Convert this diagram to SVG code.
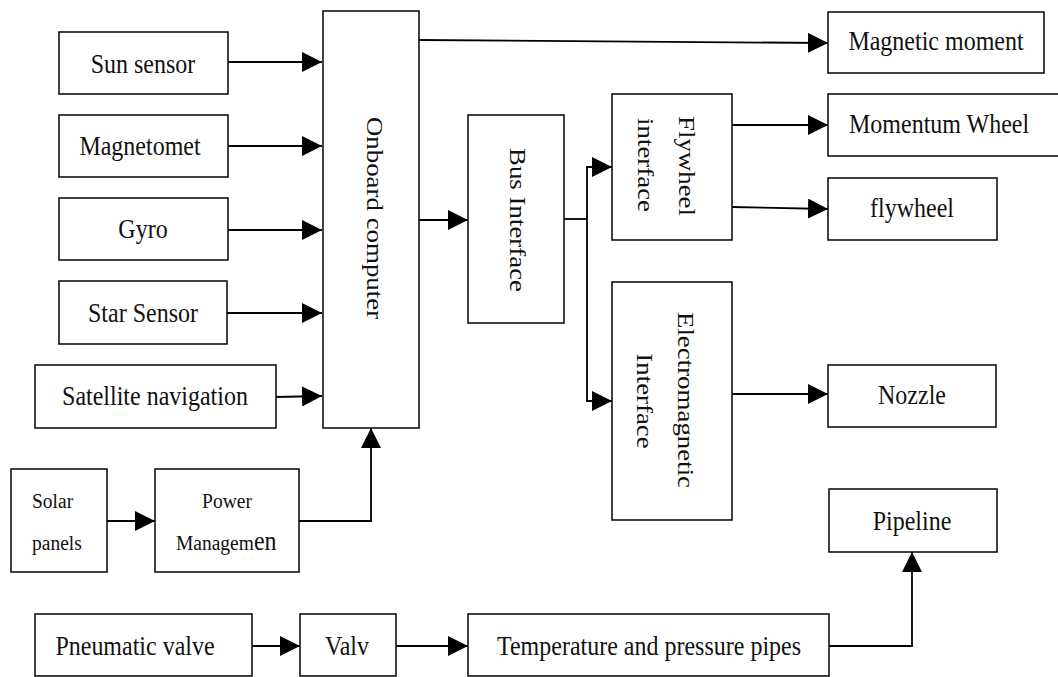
<svg xmlns="http://www.w3.org/2000/svg" width="1058" height="677" viewBox="0 0 1058 677">
<defs>
<marker id="ah" markerUnits="userSpaceOnUse" markerWidth="20" markerHeight="20" refX="20" refY="10" orient="auto">
<path d="M0,0 L20,10 L0,20 Z" fill="#000"/>
</marker>
</defs>
<style>
rect{fill:#fff;stroke:#111;stroke-width:1.6}
text{font-family:"Liberation Serif","Times New Roman",serif;font-size:24px;fill:#111}
.c{text-anchor:middle}
.s{font-size:19.5px}
#connectors path{fill:none;stroke:#000;stroke-width:1.8}
.a{marker-end:url(#ah)}
</style>
<rect x="0" y="0" width="1058" height="677" style="fill:#fff;stroke:none"/>
<g id="connectors">
<path class="a" d="M228,62 H322"/>
<path class="a" d="M228,146 H322"/>
<path class="a" d="M228,230 H322"/>
<path class="a" d="M227,313 H322"/>
<path class="a" d="M276,397 L322,396"/>
<path class="a" d="M107,521 H155"/>
<path class="a" d="M299,521 H371 V428"/>
<path class="a" d="M419,40 L828,43"/>
<path class="a" d="M419,220 H468"/>
<path d="M564,219 H587"/>
<path class="a" d="M587,219 V167 H612"/>
<path class="a" d="M587,219 V401 H612"/>
<path class="a" d="M732,125 H828"/>
<path class="a" d="M732,207 L828,209"/>
<path class="a" d="M732,394 H828"/>
<path class="a" d="M252,646 H300"/>
<path class="a" d="M396,646 H468"/>
<path class="a" d="M829,646 H912 V552"/>
</g>
<g id="sun"><rect x="59" y="32" width="169" height="62"/><text class="c" transform="translate(143,73) scale(1,1.12)">Sun sensor</text></g>
<g id="magnetomet"><rect x="59" y="115" width="169" height="62"/><text class="c" transform="translate(140,155) scale(1,1.12)">Magnetomet</text></g>
<g id="gyro"><rect x="59" y="198" width="169" height="62"/><text class="c" transform="translate(143,238) scale(1,1.12)">Gyro</text></g>
<g id="star"><rect x="59" y="281" width="168" height="63"/><text class="c" transform="translate(143,322) scale(1,1.12)">Star Sensor</text></g>
<g id="satnav"><rect x="35" y="365" width="241" height="63"/><text class="c" transform="translate(155,405) scale(1,1.12)">Satellite navigation</text></g>
<g id="obc"><rect x="323" y="11" width="96" height="417"/><text class="c" transform="translate(367,218) scale(1,1.12) rotate(90)">Onboard computer</text></g>
<g id="solar"><rect x="11" y="469" width="96" height="103"/><text class="s" transform="translate(32,508) scale(1,1.12)">Solar</text><text class="s" transform="translate(32,550) scale(1,1.12)">panels</text></g>
<g id="power"><rect x="155" y="469" width="144" height="103"/><text class="c s" transform="translate(227,508) scale(1,1.12)">Power</text><text class="s" transform="translate(176,550) scale(1,1.12)">Managem<tspan style="font-size:24px">en</tspan></text></g>
<g id="magmom"><rect x="828" y="12" width="216" height="61"/><text class="c" transform="translate(936,50) scale(1,1.12)">Magnetic moment</text></g>
<g id="bus"><rect x="468" y="115" width="96" height="208"/><text class="c" transform="translate(510,220) scale(1,1.12) rotate(90)">Bus Interface</text></g>
<g id="flyif"><rect x="612" y="94" width="120" height="146"/><text class="c" transform="translate(679,166) scale(1,1.12) rotate(90)">Flywheel</text><text class="c" transform="translate(638,165) scale(1,1.12) rotate(90)">interface</text></g>
<g id="momwheel"><rect x="828" y="94" width="234" height="62"/><text transform="translate(849,133) scale(1,1.12)">Momentum Wheel</text></g>
<g id="flywheel"><rect x="828" y="178" width="169" height="62"/><text class="c" transform="translate(912,217) scale(1,1.12)">flywheel</text></g>
<g id="emif"><rect x="612" y="282" width="120" height="238"/><text class="c" transform="translate(678,400) scale(1,1.12) rotate(90)">Electromagnetic</text><text class="c" transform="translate(637,401) scale(1,1.12) rotate(90)">Interface</text></g>
<g id="nozzle"><rect x="828" y="365" width="168" height="62"/><text class="c" transform="translate(912,404) scale(1,1.12)">Nozzle</text></g>
<g id="pipeline"><rect x="829" y="489" width="168" height="63"/><text class="c" transform="translate(912,530) scale(1,1.12)">Pipeline</text></g>
<g id="pneumatic"><rect x="35" y="614" width="217" height="62"/><text class="c" transform="translate(135,655) scale(1,1.12)">Pneumatic valve</text></g>
<g id="valv"><rect x="300" y="614" width="96" height="62"/><text class="c" transform="translate(347,655) scale(1,1.12)">Valv</text></g>
<g id="temp"><rect x="468" y="614" width="361" height="62"/><text class="c" transform="translate(649,655) scale(1,1.12)">Temperature and pressure pipes</text></g>
</svg>
